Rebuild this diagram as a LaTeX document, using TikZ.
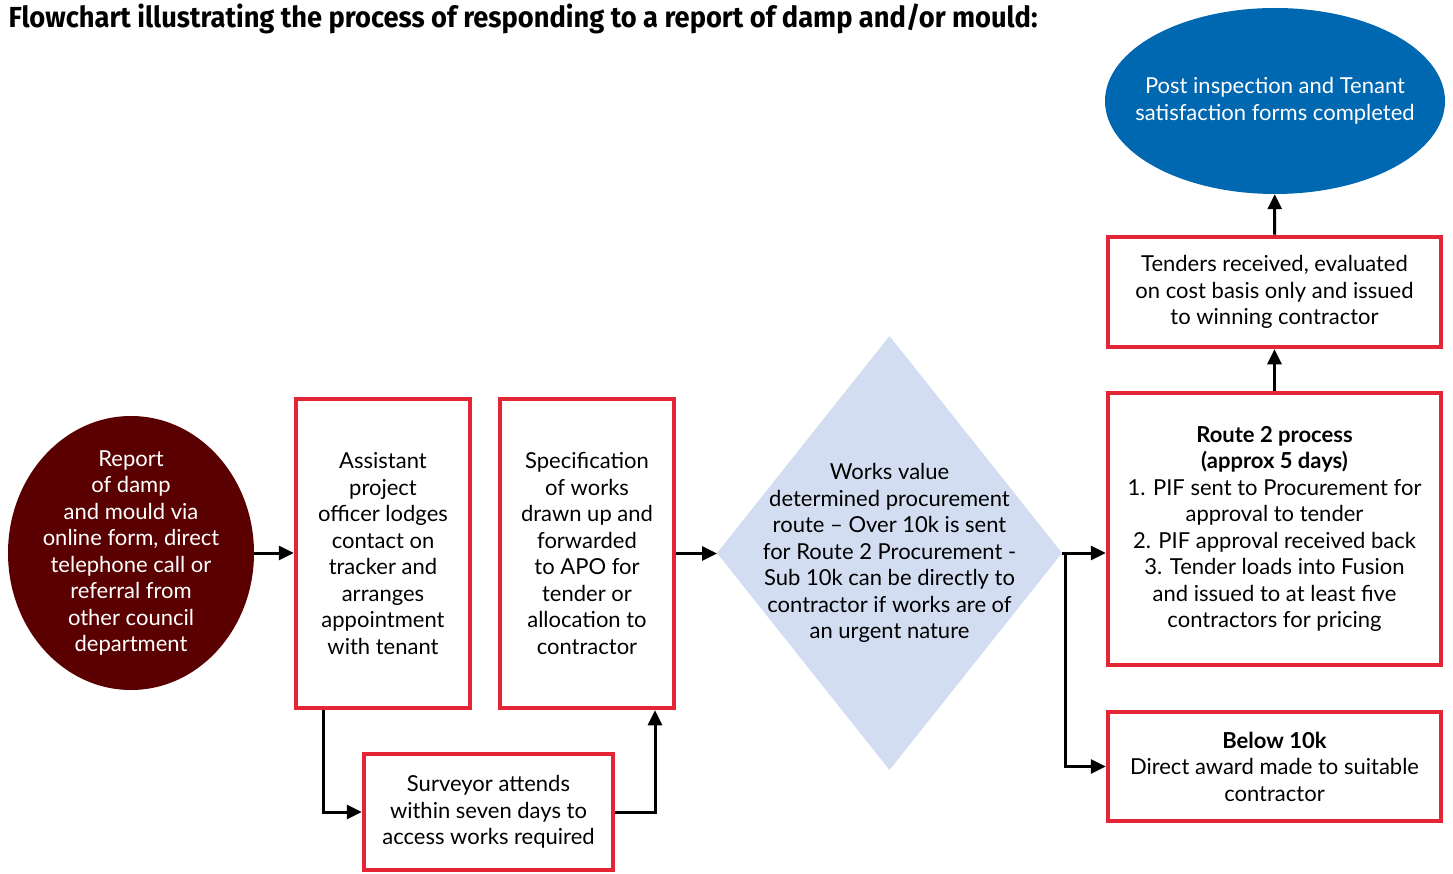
\documentclass[tikz,border=0pt]{standalone}
\usepackage{fontspec}
\setmainfont{Lato}
\newfontfamily\headfont[FakeStretch=0.94]{Fira Sans}
\usetikzlibrary{arrows.meta,shapes.geometric,positioning}

\definecolor{boxred}{HTML}{E42535}
\definecolor{maroon}{HTML}{5A0000}
\definecolor{endblue}{HTML}{0067B1}
\definecolor{decblue}{HTML}{D2DDF1}

\newcommand{\bodyfont}{\fontsize{22}{26.5}\selectfont}

\tikzset{
  stepbox/.style={draw=boxred, line width=4.5pt, fill=white, align=center,
    inner sep=0pt, font=\bodyfont},
  flow/.style={line width=3pt, -{Triangle[length=15pt,width=14pt]}}
}

\begin{document}
\begin{tikzpicture}[x=1pt,y=-1pt]
\useasboundingbox (0,0) rectangle (1453,874);

\node[anchor=west,font=\headfont\bfseries\fontsize{29}{32}\selectfont] (title) at (5,19)
  {Flowchart illustrating the process of responding to a report of damp and/or mould:};

% start and end
\node[ellipse, fill=maroon, minimum width=246pt, minimum height=274pt, inner sep=0pt,
  label={[align=center,text=white,font=\bodyfont]center:Report\\of damp\\and mould via\\online form, direct\\telephone call or\\referral from\\other council\\department}]
  (report) at (131,553) {};
\node[ellipse, fill=endblue, minimum width=340pt, minimum height=186pt, inner sep=0pt,
  label={[align=center,text=white,font=\bodyfont]center:Post inspection and Tenant\\satisfaction forms completed}]
  (done) at (1275,101) {};

% process boxes
\node[stepbox, minimum width=174pt, minimum height=309pt] (assist) at (383,553.5)
  {Assistant\\project\\officer lodges\\contact on\\tracker and\\arranges\\appointment\\with tenant};
\node[stepbox, minimum width=174pt, minimum height=309pt] (spec) at (587,553.5)
  {Specification\\of works\\drawn up and\\forwarded\\to APO for\\tender or\\allocation to\\contractor};
\node[stepbox, minimum width=249pt, minimum height=116pt] (survey) at (488.5,812)
  {Surveyor attends\\within seven days to\\access works required};

% decision
\node[diamond, fill=decblue, minimum width=345pt, minimum height=434pt, inner sep=0pt, outer sep=0pt,
  label={[align=center,font=\bodyfont]center:Works value\\determined procurement\\route -- Over 10k is sent\\for Route 2 Procurement -\\Sub 10k can be directly to\\contractor if works are of\\an urgent nature}]
  (value) at (889.5,553) {};

% procurement routes
\node[stepbox, minimum width=333pt, minimum height=272pt] (routetwo) at (1274.5,529)
  {\textbf{Route 2 process}\\\textbf{(approx 5 days)}\\1. PIF sent to Procurement for\\approval to tender\\2. PIF approval received back\\3. Tender loads into Fusion\\and issued to at least five\\contractors for pricing};
\node[stepbox, minimum width=333pt, minimum height=110pt] (tenders) at (1274.5,292)
  {Tenders received, evaluated\\on cost basis only and issued\\to winning contractor};
\node[stepbox, minimum width=333pt, minimum height=109pt] (below) at (1274.5,766.5)
  {\textbf{Below 10k}\\Direct award made to suitable\\contractor};

\coordinate (split) at ([xshift=3pt]value.east);

\draw[flow] (report.east) -- (report.east -| assist.west);
\draw[flow] ([xshift=-60pt]assist.south) |- (survey.west);
\draw[flow] (survey.east) -| ([xshift=68pt]spec.south);
\draw[flow] (spec.east) -- (spec.east -| value.west);
\draw[flow] (value.east) -- (value.east -| routetwo.west);
\draw[flow] (split) |- (below.west);
\draw[flow] (routetwo) -- (tenders);
\draw[flow] (tenders) -- (done);

\end{tikzpicture}
\end{document}
